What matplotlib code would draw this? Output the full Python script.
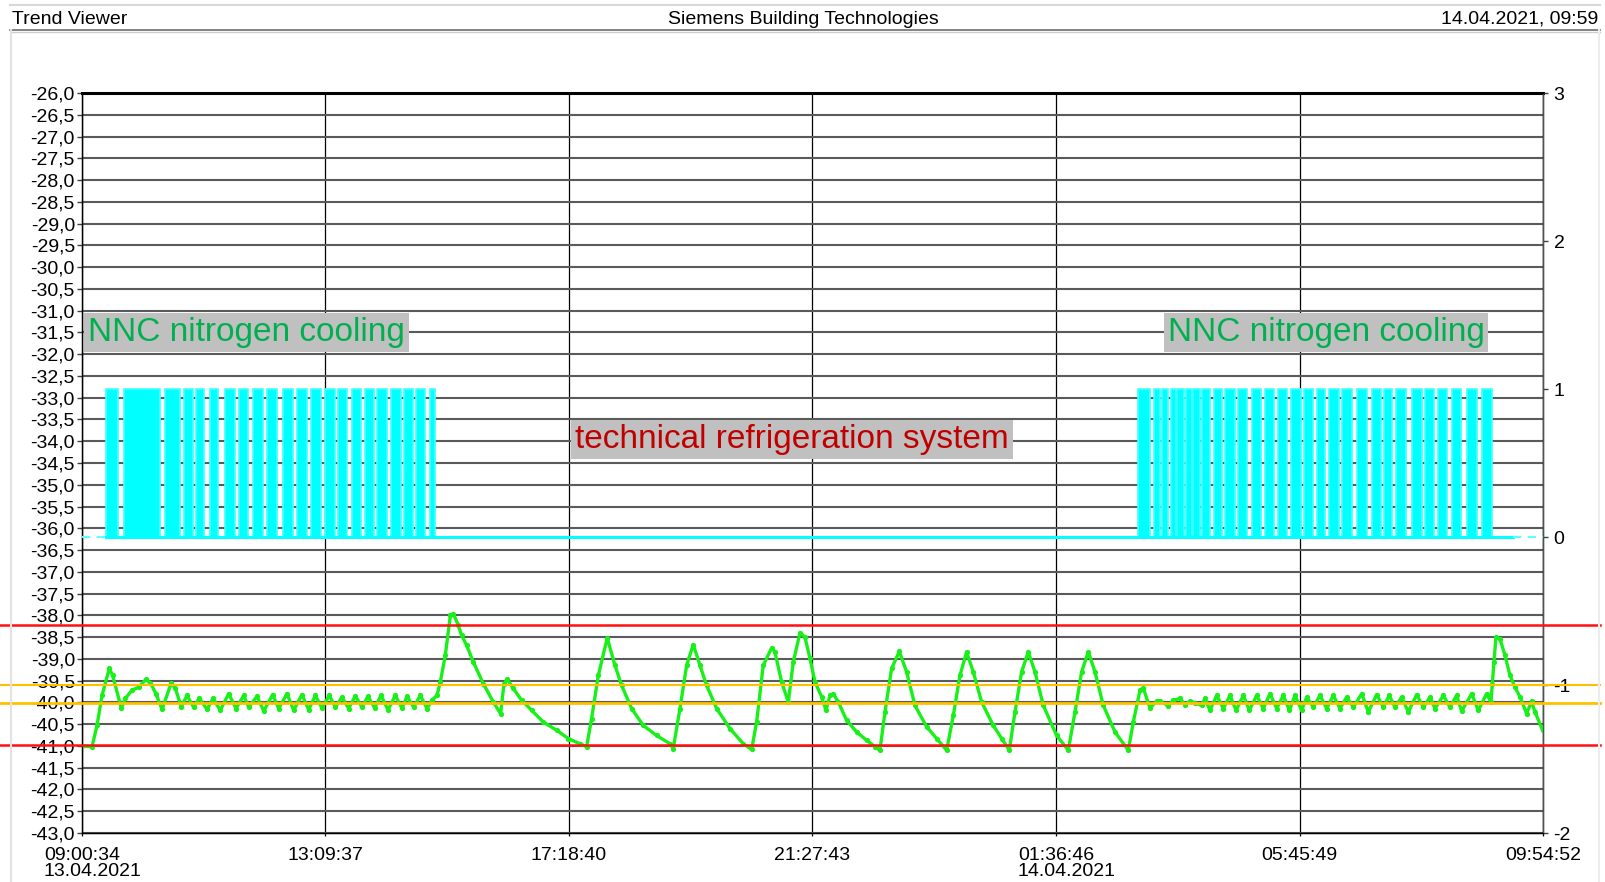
import numpy as np
import matplotlib
matplotlib.use("Agg")
import matplotlib.pyplot as plt
from matplotlib.lines import Line2D
from matplotlib.transforms import blended_transform_factory

plt.rcParams['font.family'] = ['Liberation Sans', 'DejaVu Sans']

# ---------------- data ----------------
# hours elapsed since 13.04.2021 09:00:34
x_end = 24.905
tick_hours = [0.0, 4.1508, 8.3017, 12.4525, 16.6033, 20.7542, 24.905]
tick_times = ["09:00:34", "13:09:37", "17:18:40", "21:27:43",
              "01:36:46", "05:45:49", "09:54:52"]
tick_dates = ["13.04.2021", "", "", "", "14.04.2021", "", ""]

# temperature trace (left axis, deg C)
time_h = [0.000, 0.170, 0.256, 0.341, 0.466, 0.523, 0.670, 0.739, 0.852, 0.966,
          1.091, 1.165, 1.261, 1.364, 1.523, 1.591, 1.693, 1.790, 1.903, 2.000,
          2.131, 2.233, 2.358, 2.500, 2.625, 2.756, 2.841, 2.983, 3.097, 3.250,
          3.352, 3.494, 3.608, 3.750, 3.864, 3.977, 4.091, 4.216, 4.318, 4.432,
          4.546, 4.659, 4.773, 4.875, 4.989, 5.097, 5.216, 5.341, 5.455, 5.540,
          5.654, 5.767, 5.881, 5.966, 6.051, 6.108, 6.193, 6.279,
          6.329, 6.415, 6.471, 6.557, 6.670, 6.841, 7.011, 7.136, 7.193, 7.250,
          7.352, 7.494, 7.665, 7.863, 8.091, 8.290, 8.488, 8.602, 8.687, 8.801,
          8.954, 9.085, 9.199, 9.369, 9.568, 9.795, 10.023, 10.079, 10.193, 10.307,
          10.420, 10.534, 10.648, 10.818, 11.045, 11.273, 11.415, 11.500, 11.613, 11.756,
          11.812, 11.926, 12.040, 12.125, 12.239,
          12.324, 12.409, 12.495, 12.608, 12.682, 12.750, 12.807, 12.892, 13.034, 13.205,
          13.375, 13.517, 13.602, 13.688, 13.801, 13.932, 14.057, 14.199, 14.398, 14.569,
          14.739, 14.853, 14.966, 15.080, 15.193, 15.336, 15.534, 15.677, 15.807, 15.904,
          16.017, 16.131, 16.245, 16.387, 16.614, 16.813, 16.927, 17.040, 17.154, 17.268,
          17.410, 17.609, 17.836, 17.921, 18.035, 18.091, 18.205, 18.319,
          18.376, 18.518, 18.603, 18.717, 18.802, 18.887, 18.973, 19.086, 19.143, 19.228,
          19.342, 19.456, 19.569, 19.672, 19.797, 19.899, 20.024, 20.137, 20.251, 20.365,
          20.478, 20.581, 20.677, 20.791, 20.876, 20.990, 21.103, 21.217, 21.331, 21.444,
          21.558, 21.672, 21.814, 21.927, 22.069, 22.183, 22.285, 22.382, 22.496, 22.609,
          22.751, 22.865, 22.978, 23.064, 23.206, 23.319, 23.433, 23.518, 23.689, 23.802,
          23.944, 24.018, 24.041, 24.069, 24.103, 24.172, 24.257, 24.342, 24.427, 24.512,
          24.626, 24.711, 24.768, 24.899]
temp_c = [-41.00, -41.02, -40.53, -39.84, -39.22, -39.38, -40.13, -39.91, -39.72, -39.65,
          -39.47, -39.55, -39.80, -40.16, -39.55, -39.68, -40.10, -39.84, -40.11, -39.90,
          -40.16, -39.91, -40.18, -39.80, -40.14, -39.84, -40.11, -39.86, -40.20, -39.82,
          -40.14, -39.80, -40.18, -39.82, -40.17, -39.84, -40.13, -39.84, -40.11, -39.88,
          -40.14, -39.85, -40.11, -39.86, -40.13, -39.84, -40.17, -39.84, -40.13, -39.86,
          -40.11, -39.84, -40.14, -39.95, -39.84, -39.53, -38.92, -38.00,
          -37.96, -38.23, -38.46, -38.69, -39.07, -39.57, -39.99, -40.26, -39.57, -39.47,
          -39.68, -39.95, -40.18, -40.45, -40.64, -40.83, -40.95, -41.02, -40.37, -39.38,
          -38.52, -39.15, -39.61, -40.14, -40.53, -40.76, -40.95, -41.06, -40.14, -39.15,
          -38.67, -39.15, -39.61, -40.14, -40.60, -40.95, -41.08, -40.45, -39.15, -38.75,
          -38.84, -39.53, -39.99, -39.07, -38.40,
          -38.50, -38.99, -39.53, -39.87, -40.18, -39.84, -39.80, -39.99, -40.41, -40.68,
          -40.87, -41.02, -41.10, -40.22, -39.22, -38.83, -39.30, -40.07, -40.56, -40.83,
          -41.10, -40.30, -39.38, -38.84, -39.30, -39.99, -40.53, -40.83, -41.10, -40.22,
          -39.30, -38.84, -39.30, -40.07, -40.76, -41.10, -40.22, -39.30, -38.84, -39.30,
          -40.07, -40.68, -41.10, -40.45, -39.72, -39.67, -40.13, -39.97,
          -39.97, -40.08, -39.95, -39.91, -40.05, -39.97, -40.01, -40.07, -39.91, -40.18,
          -39.84, -40.14, -39.84, -40.18, -39.84, -40.18, -39.84, -40.14, -39.80, -40.14,
          -39.84, -40.18, -39.84, -40.18, -39.88, -40.11, -39.84, -40.14, -39.84, -40.14,
          -39.88, -40.11, -39.80, -40.22, -39.82, -40.11, -39.84, -40.11, -39.88, -40.22,
          -39.82, -40.11, -39.88, -40.14, -39.84, -40.11, -39.84, -40.20, -39.80, -40.18,
          -39.80, -39.99, -39.57, -39.07, -38.50, -38.54, -38.92, -39.38, -39.65, -39.87,
          -40.26, -39.97, -40.22, -40.64]

# nitrogen valve pulses (right axis, state 0/1), start / end in hours
pulse_start = [0.409, 0.716, 1.420, 1.739, 1.938, 2.182, 2.432, 2.676, 2.910, 3.159,
               3.421, 3.670, 3.909, 4.142, 4.364, 4.597, 4.829, 5.034, 5.267, 5.489,
               5.693, 5.932,
               18.006, 18.278, 18.405, 18.563, 18.671, 18.819, 18.943, 19.092, 19.301, 19.489,
               19.710, 19.939, 20.165, 20.387, 20.614, 20.825, 21.047, 21.256, 21.483, 21.729,
               21.984, 22.199, 22.398, 22.671, 22.893, 23.120, 23.348, 23.614, 23.869]
pulse_end = [0.619, 1.330, 1.670, 1.887, 2.085, 2.323, 2.603, 2.825, 3.080, 3.329,
             3.592, 3.840, 4.069, 4.313, 4.522, 4.751, 4.977, 5.194, 5.433, 5.637,
             5.842, 6.022,
             18.205, 18.376, 18.517, 18.648, 18.790, 18.921, 19.057, 19.228, 19.438, 19.649,
             19.853, 20.097, 20.324, 20.535, 20.779, 20.979, 21.188, 21.422, 21.648, 21.899,
             22.148, 22.336, 22.569, 22.842, 23.046, 23.273, 23.512, 23.774, 24.030]
cyan_solid_until = 24.40   # after this the state line is drawn dashed

# limit lines (left axis)
red_limits = [-38.22, -40.97]
orange_limits = [-39.60, -40.02]

left_ticks = np.arange(-43.0, -25.99, 0.5)
right_ticks = [-2, -1, 0, 1, 2, 3]

assert len(time_h) == len(temp_c)
assert len(pulse_start) == len(pulse_end)

# ---------------- figure ----------------
W, H = 1606, 882
fig = plt.figure(figsize=(W / 100, H / 100), dpi=100)
fig.patch.set_facecolor('white')

# header
fs = 14
hy = 1 - 19.5 / H
fig.text(12 / W, hy, "Trend Viewer", fontsize=fs, ha='left', va='center')
fig.text(803 / W, hy, "Siemens Building Technologies", fontsize=fs, ha='center', va='center')
fig.text(1598 / W, hy, "14.04.2021, 09:59", fontsize=fs, ha='right', va='center')
fig.add_artist(Line2D([10 / W, 1600 / W], [1 - 4.5 / H] * 2, color='#d8d8d8', lw=1.5))
fig.add_artist(Line2D([10 / W, 1600 / W], [1 - 29.5 / H] * 2, color='#7a7a7a', lw=1.3))
fig.add_artist(Line2D([10 / W, 1600 / W], [1 - 31.5 / H] * 2, color='#cfcfcf', lw=1.0))
fig.add_artist(Line2D([11 / W] * 2, [0, 1 - 30 / H], color='#e2e2e2', lw=1.5))
fig.add_artist(Line2D([1599 / W] * 2, [0, 1 - 30 / H], color='#ececec', lw=1.5))

ax = fig.add_axes([82 / W, 49 / H, 1461 / W, 740 / H])
ax.set_xlim(0, x_end)
ax.set_ylim(-43, -26)

ax.set_yticks(left_ticks)
ax.set_yticklabels([f"{v:.1f}".replace('.', ',') for v in left_ticks])
ax.set_xticks(tick_hours)
ax.set_xticklabels(tick_times)
ax.tick_params(axis='y', direction='out', length=3.6, width=1.0, pad=1.5,
               labelsize=fs, colors='#404040', labelcolor='black')
ax.tick_params(axis='x', direction='out', length=2.5, width=0.9, pad=7.5,
               labelsize=fs, labelcolor='black')
ax.yaxis.grid(True, color='#5a5a5a', lw=1.5)
ax.xaxis.grid(True, color='black', lw=0.9)
ax.set_axisbelow(True)
for s in ['left', 'bottom', 'right']:
    ax.spines[s].set_color('black')
    ax.spines[s].set_linewidth(1.0)
ax.spines['top'].set_linewidth(2.2)
ax.spines['top'].set_color('black')

# temperature trace
ax.plot(time_h, temp_c, color='#19f019', lw=2.4, marker='o', ms=3.8,
        markeredgewidth=0, zorder=3)

# annotation boxes
box = dict(boxstyle='square,pad=0.12', facecolor='#c0c0c0', edgecolor='none')
ax.text(0.004, 0.6765, "NNC nitrogen cooling", transform=ax.transAxes, fontsize=24,
        color='#00b050', ha='left', va='center', bbox=box, zorder=6)
ax.text(0.743, 0.6765, "NNC nitrogen cooling", transform=ax.transAxes, fontsize=24,
        color='#00b050', ha='left', va='center', bbox=box, zorder=6)
ax.text(0.3375, 0.532, "technical refrigeration system", transform=ax.transAxes,
        fontsize=24, color='#c00000', ha='left', va='center', bbox=box, zorder=6)

# right axis: valve state
ax2 = ax.twinx()
ax2.set_ylim(-2, 3)
ax2.set_yticks(right_ticks)
ax2.set_yticklabels([str(v) for v in right_ticks])
ax2.tick_params(axis='y', direction='out', length=3.6, width=1.0, pad=4,
                labelsize=fs, colors='#404040', labelcolor='black')
ax2.spines['right'].set_color('#505050')

widths = np.subtract(pulse_end, pulse_start)
ax2.bar(pulse_start, [1] * len(pulse_start), width=widths, bottom=0, align='edge',
        color='#00ffff', edgecolor='#40ffff', linewidth=1.2, zorder=3)
ax2.plot([0, pulse_start[0]], [0, 0], color='#60ffff', lw=1.5, ls=(0, (4, 3)), zorder=3)
ax2.plot([pulse_start[0], cyan_solid_until], [0, 0], color='#00ffff', lw=2.2, zorder=3)
ax2.plot([cyan_solid_until, x_end], [0, 0], color='#60ffff', lw=1.5, ls=(0, (4, 3)), zorder=3)

# limit lines across the full width, drawn on top
trans = blended_transform_factory(ax.transAxes, ax.transData)
x0 = -82 / 1461
x1 = (1600 - 82) / 1461
for y in red_limits:
    ln = Line2D([x0, x1], [y, y], color='#ff1010', lw=1.8, transform=trans, zorder=8)
    ln.set_clip_on(False)
    ax2.add_line(ln)
for y, lw in zip(orange_limits, [1.5, 2.0]):
    ln = Line2D([x0, x1], [y, y], color='#ffc000', lw=lw, transform=trans, zorder=8)
    ln.set_clip_on(False)
    ax2.add_line(ln)

# date lines under the time labels, left-aligned with them
fig.canvas.draw()
renderer = fig.canvas.get_renderer()
for lbl, d in zip(ax.get_xticklabels(), tick_dates):
    if d:
        bb = lbl.get_window_extent(renderer)
        fig.text(bb.x0 / W, 1.5 / H, d, fontsize=fs, ha='left', va='bottom')

fig.savefig("out.png", dpi=100, facecolor='white')
